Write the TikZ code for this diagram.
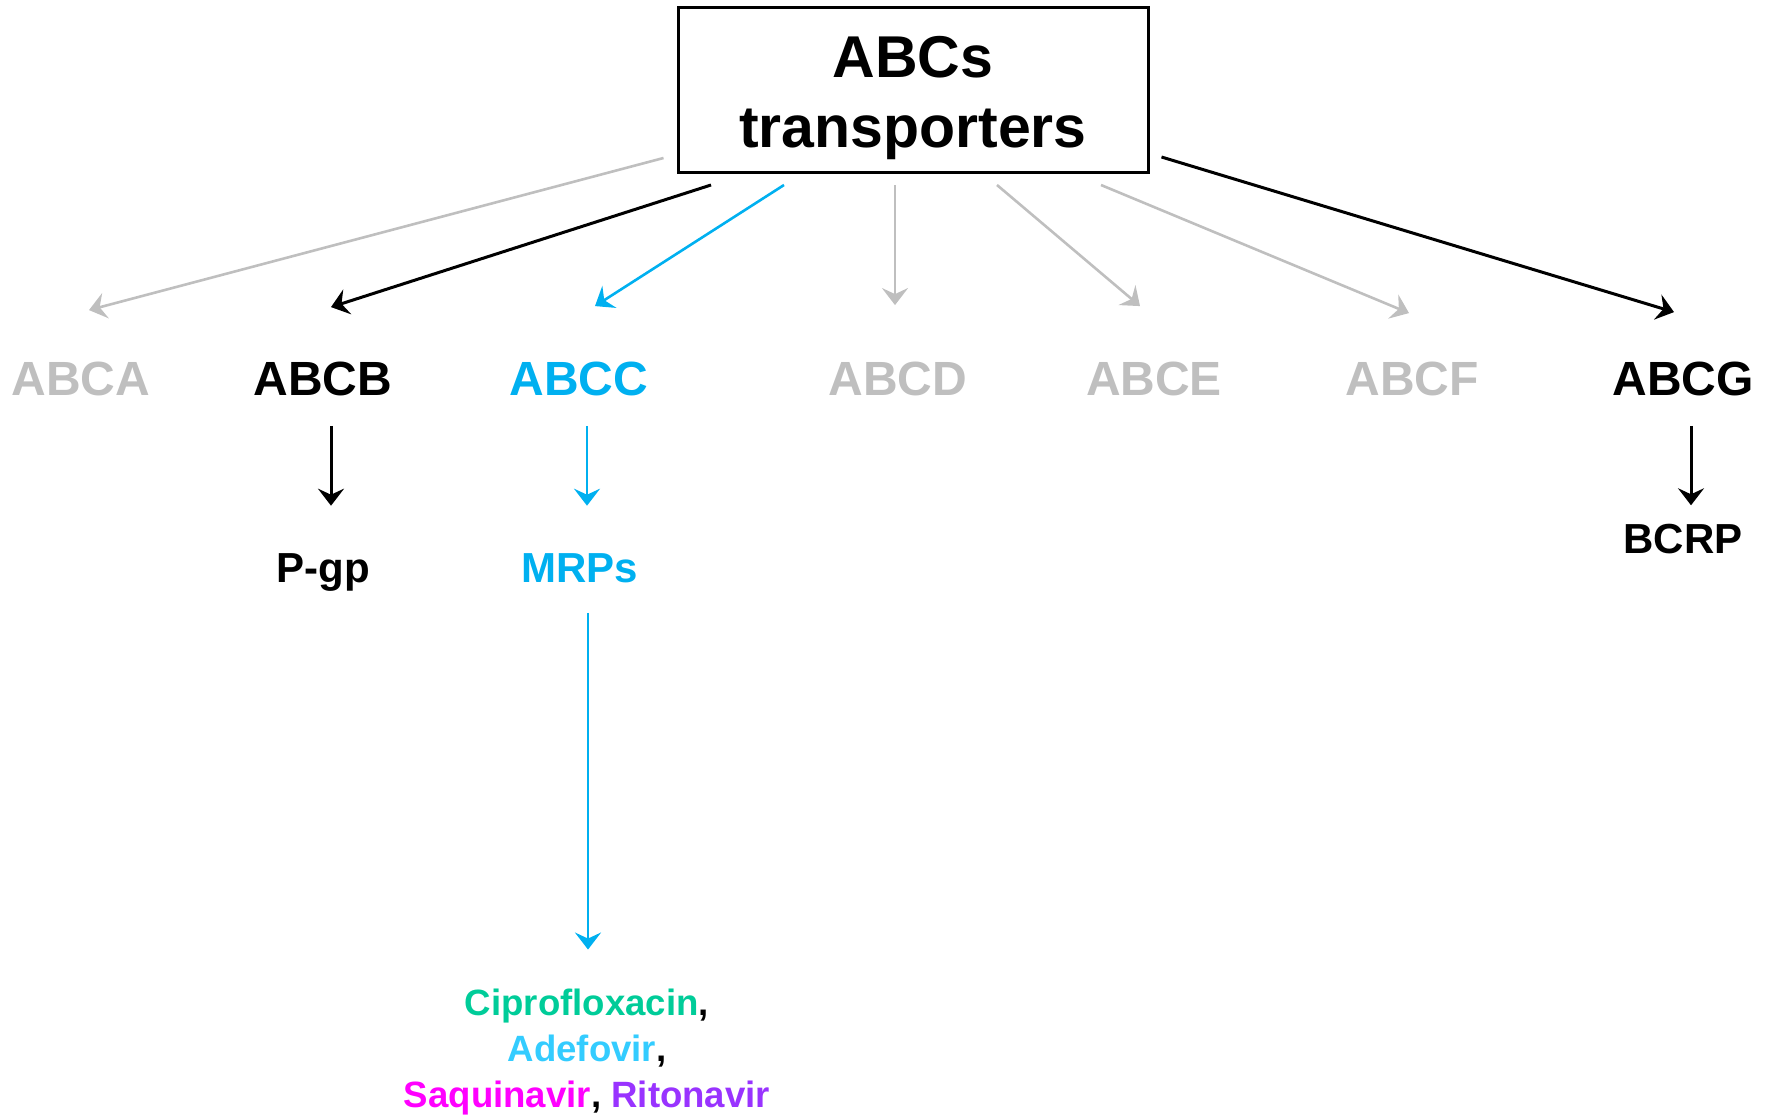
\documentclass[tikz,border=0pt]{standalone}
\usepackage{fontspec}
\setmainfont{Liberation Sans}
\usetikzlibrary{arrows.meta,calc}
\definecolor{abcgray}{RGB}{191,191,191}
\definecolor{abcblue}{RGB}{0,176,240}
\definecolor{cipro}{RGB}{0,204,153}
\definecolor{adefo}{RGB}{51,204,255}
\definecolor{saqui}{RGB}{255,0,255}
\definecolor{riton}{RGB}{153,51,255}

\tikzset{
    lbl/.style={font=\fontsize{24}{28}\selectfont\bfseries, inner sep=0pt, anchor=base},
    sublbl/.style={font=\fontsize{21}{25}\selectfont\bfseries, inner sep=0pt, anchor=base},
    tip/.style={-{Stealth[length=8.5pt,width=13pt,inset=3pt]}},
    garr/.style={tip, color=abcgray, line width=1.3pt},
    karr/.style={tip, color=black, line width=1.5pt},
    barr/.style={tip, color=abcblue, line width=1.3pt}
}

\begin{document}
\begin{tikzpicture}[x=0.5pt,y=-0.5pt]
        % picture size in px (y goes down)
        \useasboundingbox (0,0) rectangle (1771,1114);

        % Top box
        \node[draw, line width=1.5pt, minimum width=235pt, minimum height=82.5pt,
              inner sep=0pt, align=center, font=\fontsize{29.5}{35}\selectfont\bfseries]
              (abc) at (913,90) {\rule{0pt}{28.2pt}ABCs\\transporters};

        % Families
        \node[lbl, abcgray] (abca) at (81,395) {ABCA};
        \node[lbl] (abcb) at (323,395) {ABCB};
        \node[lbl, abcblue] (abcc) at (579,395) {ABCC};
        \node[lbl, abcgray] (abcd) at (898,395) {ABCD};
        \node[lbl, abcgray] (abce) at (1154,395) {ABCE};
        \node[lbl, abcgray] (abcf) at (1412,395) {ABCF};
        \node[lbl] (abcg) at (1683,395) {ABCG};

        % Members
        \node[sublbl] (pgp) at (323,582) {P-gp};
        \node[sublbl, abcblue] (mrp) at (580,582) {MRPs};
        \node[sublbl] (bcrp) at (1683,553) {BCRP};

        % Substrates
        \node[align=center, inner sep=0pt, font=\fontsize{18.3}{23}\selectfont\bfseries]
              (drug) at (587,1052) {\textcolor{cipro}{Ciprofloxacin},\\
              \textcolor{adefo}{Adefovir},\\
              \textcolor{saqui}{Saquinavir}, \textcolor{riton}{Ritonavir}};

        % Fan of arrows from the box
        \draw[garr] ($(abc.south west)+(-13,-16)$) -- ($(abca.north)+(8,-51)$);
        \draw[karr] ($(abc.south)+(-202,11)$) -- ($(abcb.north)+(8,-54)$);
        \draw[barr] ($(abc.south)+(-129,11)$) -- ($(abcc.north)+(16,-55)$);
        \draw[garr] ($(abc.south)+(-18,11)$) -- ($(abcd.north)+(-3,-56)$);
        \draw[garr] ($(abc.south)+(84,11)$) -- ($(abce.north)+(-14,-55)$);
        \draw[garr] ($(abc.south)+(188,11)$) -- ($(abcf.north)+(-3,-48)$);
        \draw[karr] ($(abc.south east)+(12,-17)$) -- ($(abcg.north)+(-9,-49)$);

        % Down arrows
        \draw[karr] ($(abcb.south)+(8,30)$) -- ($(pgp.north)+(8,-47)$);
        \draw[barr] ($(abcc.south)+(8,30)$) -- ($(mrp.north)+(7,-47)$);
        \draw[karr] ($(abcg.south)+(8,30)$) -- ($(bcrp.north)+(8,-18)$);
        \draw[barr] ($(mrp.south)+(8,30)$) -- ($(drug.north)+(1,-39)$);
\end{tikzpicture}
\end{document}
